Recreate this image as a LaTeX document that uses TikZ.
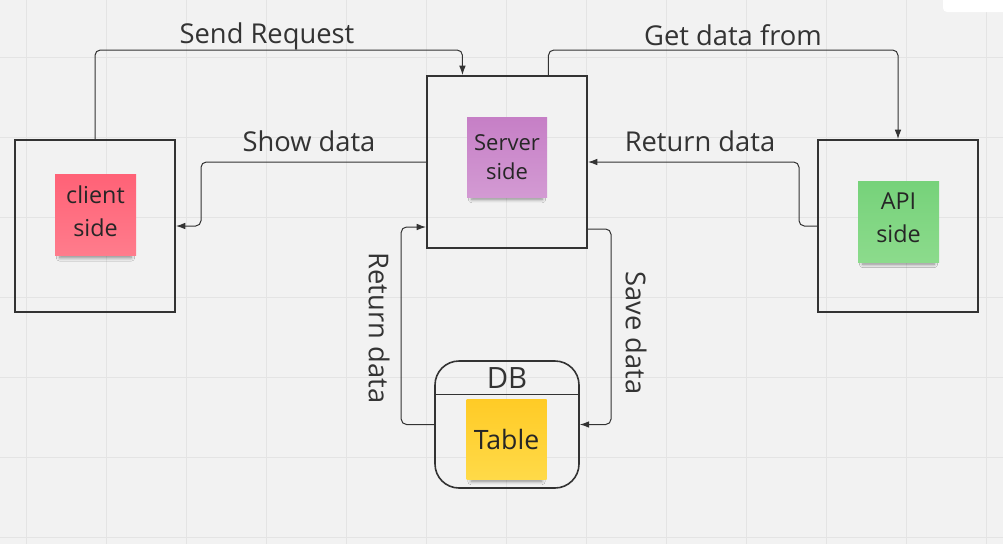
\documentclass[tikz,border=0pt]{standalone}
\usepackage{fontspec}
\setmainfont{Open Sans}
\usetikzlibrary{calc,arrows.meta,shadows.blur}
\definecolor{bg}{HTML}{F2F2F2}
\definecolor{gridc}{HTML}{E4E4E4}
\definecolor{ink}{HTML}{333333}
\definecolor{pinkA}{HTML}{FF6277}
\definecolor{pinkB}{HTML}{FF7C8C}
\definecolor{purA}{HTML}{C67FC6}
\definecolor{purB}{HTML}{D39AD3}
\definecolor{grnA}{HTML}{76D27A}
\definecolor{grnB}{HTML}{8CDB8C}
\definecolor{yelA}{HTML}{FFCB26}
\definecolor{yelB}{HTML}{FFDA48}
\tikzset{
  bigbox/.style={draw=ink, line width=1.5pt, minimum width=120pt, minimum height=129pt, inner sep=0pt},
  sticky/.style={minimum width=60.75pt, minimum height=60.75pt, inner sep=0pt, align=center, text=black!85,
    blur shadow={shadow xshift=0pt, shadow yshift=-6pt, shadow scale=0.88, shadow opacity=45, shadow blur steps=6, shadow blur radius=3pt}},
  conn/.style={draw=ink, line width=0.75pt, rounded corners=4pt, -{Latex[length=7pt,width=5pt]}},
  lbl/.style={text=ink, font=\fontsize{20.5}{24}\selectfont, inner sep=0pt},
}
\begin{document}
\begin{tikzpicture}[x=0.75pt, y=-0.75pt]
  \fill[bg] (0,0) rectangle (1003,544);
  \useasboundingbox (0,0) rectangle (1003,544);
  \foreach \gx in {26,106,...,986} \draw[gridc, line width=0.75pt] (\gx,0) -- (\gx,544);
  \foreach \gy in {57,137,...,537} \draw[gridc, line width=0.75pt] (0,\gy) -- (1003,\gy);
  \fill[white, rounded corners=3pt] (943,-5) rectangle (1010,12);

  % boxes
  \node[bigbox] (client) at (95,226) {};
  \node[bigbox] (server) at (507,162) {};
  \node[bigbox] (api) at (898,226) {};
  \node[draw=ink, line width=1.2pt, rounded corners=18pt, minimum width=108pt, minimum height=95.25pt, inner sep=0pt] (db) at (507,424.5) {};
  \draw[ink, line width=0.75pt] (db.west |- 0,394) -- (db.east |- 0,394);
  \node[text=ink, font=\fontsize{22}{26}\selectfont, inner sep=0pt] (dbl) at (507,378) {DB};

  % stickies
  \node[sticky, top color=pinkA, bottom color=pinkB, font=\fontsize{17.5}{24.5}\selectfont, text depth=6pt] (cs) at (95.5,215) {client\\side};
  \node[sticky, minimum width=60pt, minimum height=60pt, top color=purA, bottom color=purB, font=\fontsize{16.5}{22}\selectfont] (ss) at (507,157) {Server\\side};
  \node[sticky, top color=grnA, bottom color=grnB, font=\fontsize{17.5}{24.5}\selectfont, text depth=6pt] (as) at (898.5,221.5) {API\\side};
  \node[sticky, minimum width=60pt, minimum height=60pt, top color=yelA, bottom color=yelB, font=\fontsize{20}{24}\selectfont] (ts) at (506.5,439) {Table};

  % connectors
  \draw[conn] (client.north) -- ++(0,-89) -| ($(server.north west)!0.225!(server.north east)$);
  \draw[conn] (server.west) -| ($(client.east)+(25,0)$) -- (client.east);
  \draw[conn] ($(server.north west)!0.756!(server.north east)$) -- ++(0,-25) -| (api.north);
  \draw[conn] (api.west) -- ++(-18,0) |- (server.east);
  \draw[conn] ($(server.south east)+(0,-20)$) -- ++(23,0) |- (db.east);
  \draw[conn] (db.west) -- ++(-33,0) |- ($(server.south west)+(0,-22)$);

  % labels
  \node[lbl] (l1) at (267,36) {Send Request};
  \node[lbl] (l2) at (309,141) {Show data};
  \node[lbl] (l3) at (733,35) {Get data from};
  \node[lbl] (l4) at (700,141) {Return data};
  \node[lbl, rotate=-90] (l5) at (636,333) {Save data};
  \node[lbl, rotate=-90] (l6) at (379,328) {Return data};
\end{tikzpicture}
\end{document}
